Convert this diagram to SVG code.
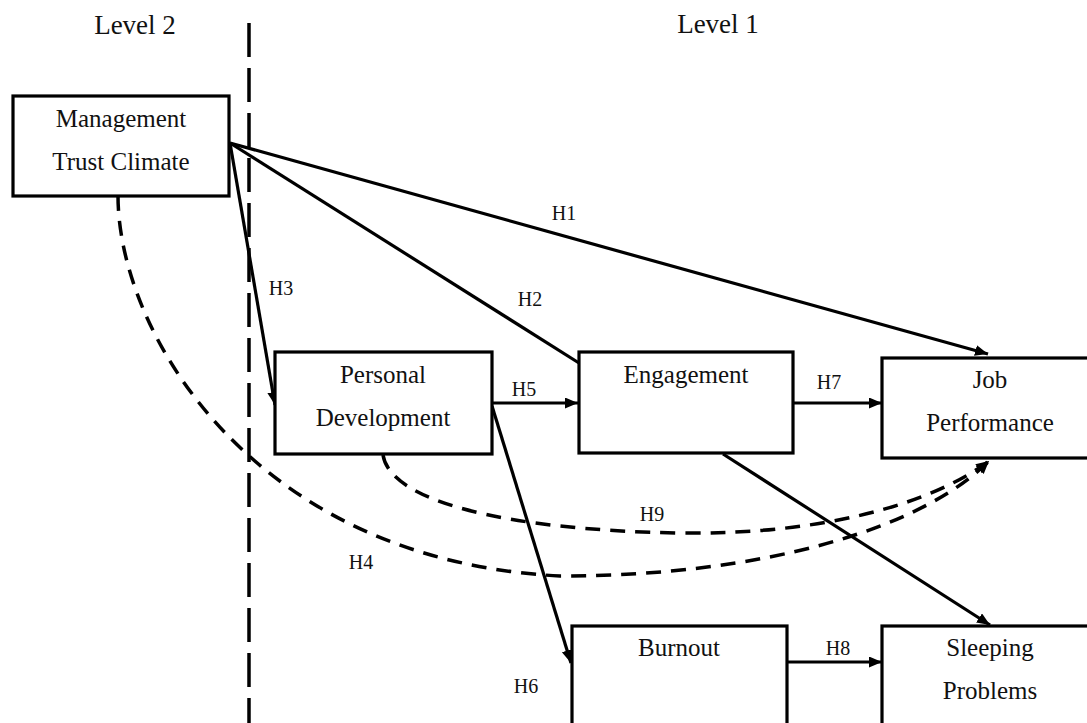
<svg xmlns="http://www.w3.org/2000/svg" width="1087" height="723" viewBox="0 0 1087 723">
<style>
.box{fill:#fff;stroke:#000;stroke-width:3.2}
.t{font-family:"Liberation Serif","Times New Roman",serif;fill:#111;text-anchor:middle}
.lbl{font-size:25px}
.lvl{font-size:27px}
.h{font-size:20px}
.ln{fill:none;stroke:#000;stroke-width:3.2}
.dash{fill:none;stroke:#000;stroke-width:3.5;stroke-dasharray:15 10}
</style>
<defs>
<marker id="ah" markerUnits="userSpaceOnUse" markerWidth="14" markerHeight="12" refX="13" refY="5.5" orient="auto">
<path d="M0,0 L13,5.5 L0,11 z" fill="#000"/>
</marker>
</defs>
<rect width="1087" height="723" fill="#fff"/>
<text class="t lvl" x="135" y="34">Level 2</text>
<text class="t lvl" x="718" y="33">Level 1</text>
<line x1="249" y1="23" x2="249" y2="723" stroke="#000" stroke-width="3.5" stroke-dasharray="34 11"/>
<g id="connectors">
<line class="ln" x1="230" y1="143" x2="988" y2="354" marker-end="url(#ah)"/>
<line class="ln" x1="230" y1="143" x2="579" y2="363"/>
<line class="ln" x1="230" y1="143" x2="275" y2="405" marker-end="url(#ah)"/>
<line class="ln" x1="492" y1="403" x2="578" y2="403" marker-end="url(#ah)"/>
<line class="ln" x1="492" y1="406" x2="571" y2="663" marker-end="url(#ah)"/>
<line class="ln" x1="793" y1="403" x2="882" y2="403" marker-end="url(#ah)"/>
<line class="ln" x1="723" y1="454" x2="990" y2="625" marker-end="url(#ah)"/>
<line class="ln" x1="787" y1="662" x2="882" y2="662" marker-end="url(#ah)"/>
<path class="dash" d="M383,455 C390,500 500,530 680,533 C820,535 930,505 989,461" marker-end="url(#ah)"/>
<path class="dash" d="M118,196 C118,330 250,560 560,576 C760,576 920,530 989,461" marker-end="url(#ah)"/>
<text class="t h" x="564" y="220">H1</text>
<text class="t h" x="530" y="306">H2</text>
<text class="t h" x="281" y="295">H3</text>
<text class="t h" x="361" y="569">H4</text>
<text class="t h" x="524" y="396">H5</text>
<text class="t h" x="526" y="693">H6</text>
<text class="t h" x="829" y="389">H7</text>
<text class="t h" x="838" y="655">H8</text>
<text class="t h" x="652" y="521">H9</text>
</g>
<g id="management">
<rect class="box" x="13" y="96" width="216" height="100"/>
<text class="t lbl" x="121" y="127">Management</text>
<text class="t lbl" x="121" y="170">Trust Climate</text>
</g>
<g id="personal">
<rect class="box" x="275" y="352" width="217" height="102"/>
<text class="t lbl" x="383" y="383">Personal</text>
<text class="t lbl" x="383" y="426">Development</text>
</g>
<g id="engagement">
<rect class="box" x="579" y="352" width="214" height="101"/>
<text class="t lbl" x="686" y="383">Engagement</text>
</g>
<g id="job">
<rect class="box" x="882" y="358" width="216" height="100"/>
<text class="t lbl" x="990" y="388">Job</text>
<text class="t lbl" x="990" y="431">Performance</text>
</g>
<g id="burnout">
<rect class="box" x="572" y="626" width="215" height="110"/>
<text class="t lbl" x="679" y="656">Burnout</text>
</g>
<g id="sleeping">
<rect class="box" x="882" y="626" width="216" height="110"/>
<text class="t lbl" x="990" y="656">Sleeping</text>
<text class="t lbl" x="990" y="699">Problems</text>
</g>
</svg>
